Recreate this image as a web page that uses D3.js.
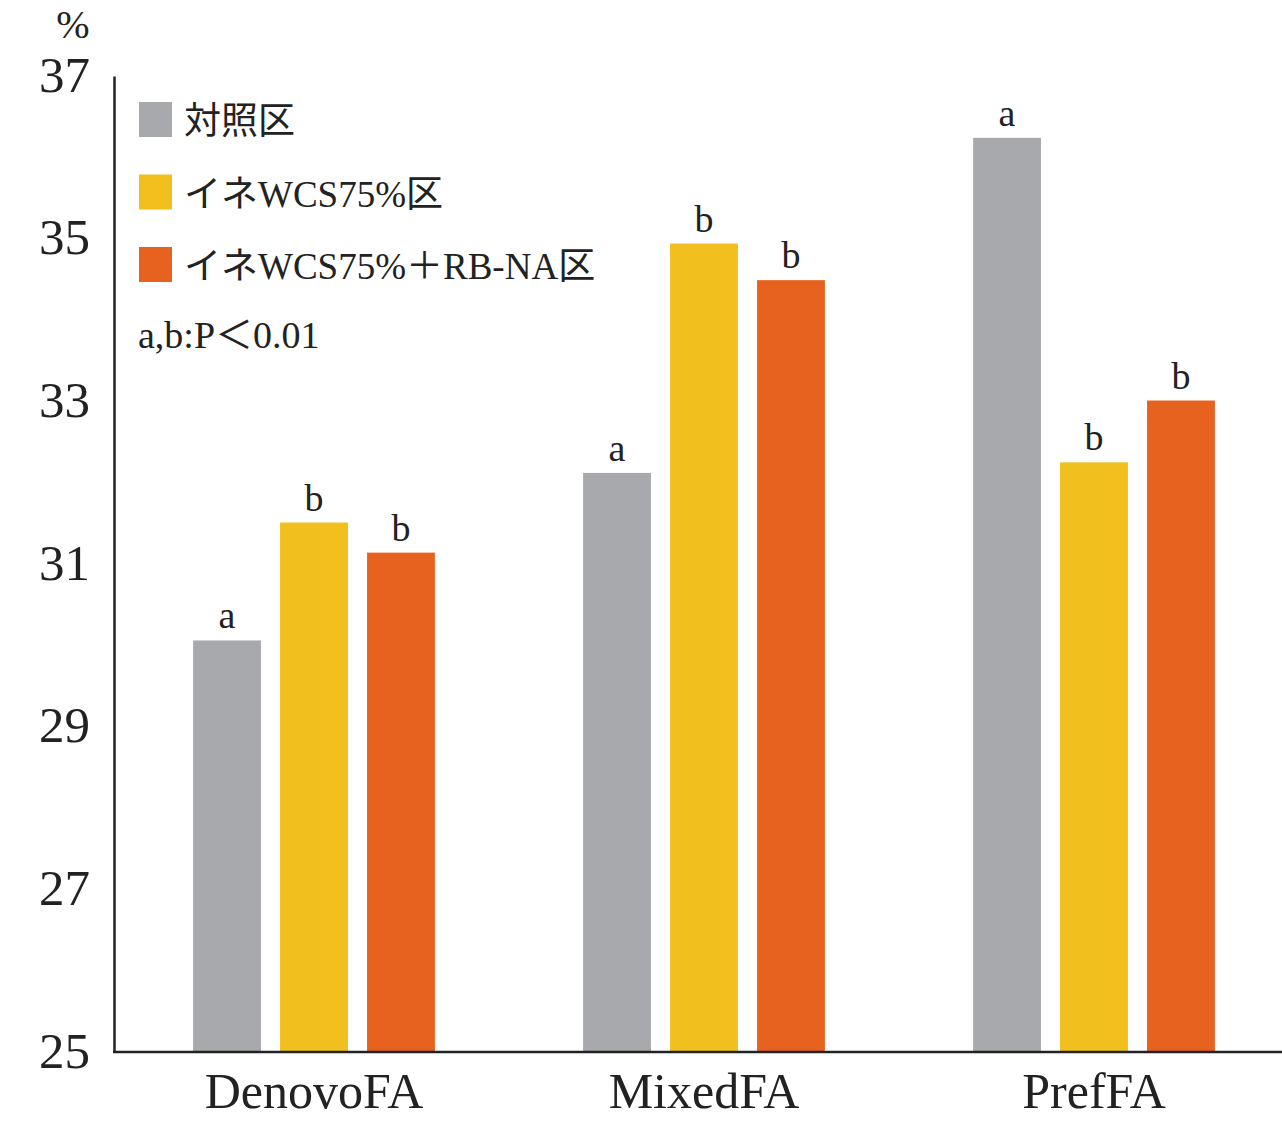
<!DOCTYPE html>
<html><head><meta charset="utf-8">
<script src="https://cdn.jsdelivr.net/npm/d3@7"></script>
<style>
html,body{margin:0;padding:0;background:#fff;}
svg{display:block;}
text{font-family:"Liberation Serif",serif;fill:#222;}
</style></head>
<body>
<script>
const categories = ["DenovoFA", "MixedFA", "PrefFA"];
const seriesNames = ["対照区", "イネWCS75%区", "イネWCS75%＋RB-NA区"];
const seriesColors = ["#a8a9ad", "#f1bf1e", "#e8621f"];
const control = [30.06, 32.12, 36.24];
const wcs75 = [31.51, 34.94, 32.25];
const wcs75rb = [31.14, 34.49, 33.01];
const letters = [["a","b","b"],["a","b","b"],["a","b","b"]];
const yTicks = [25, 27, 29, 31, 33, 35, 37];
const unitLabel = "%";
const noteText = "a,b:P＜0.01";

const W = 1282, H = 1123;
const svg = d3.select("body").append("svg").attr("width", W).attr("height", H);

const y = d3.scaleLinear().domain([25, 37]).range([1052, 76]);
const x0 = d3.scaleBand().domain(categories).range([119, 1289]).paddingInner(0.38).paddingOuter(0.19);
const x1 = d3.scaleBand().domain(seriesNames).range([0, x0.bandwidth()]).paddingInner(0.22);
const seriesVals = [control, wcs75, wcs75rb];

function mixedText(sel, str) {
  const parts = str.match(/[\u3000-\u9fff\uff01-\uff0f\uff1a-\uff20]+|[^\u3000-\u9fff\uff01-\uff0f\uff1a-\uff20]+/g);
  parts.forEach(p => {
    const cjk = /[\u3000-\u9fff\uff01-\uff0f\uff1a-\uff20]/.test(p);
    sel.append("tspan")
      .style("font-family", cjk ? "'Noto Sans CJK JP',sans-serif" : "'Liberation Serif',serif")
      .text(p);
  });
}

// bars
const groups = svg.append("g").selectAll("g").data(categories).join("g")
  .attr("transform", d => `translate(${x0(d)},0)`);
groups.each(function(cat, ci) {
  const g = d3.select(this);
  seriesNames.forEach((s, si) => {
    const v = seriesVals[si][ci];
    g.append("rect")
      .attr("x", x1(s)).attr("width", x1.bandwidth())
      .attr("y", y(v)).attr("height", y(25) - y(v))
      .attr("fill", seriesColors[si]);
    g.append("text")
      .attr("x", x1(s) + x1.bandwidth() / 2)
      .attr("y", y(v) - 12)
      .attr("text-anchor", "middle")
      .style("font-size", "38px")
      .text(letters[ci][si]);
  });
});

// y axis
const yAxis = svg.append("g").attr("transform", "translate(114,0)")
  .call(d3.axisLeft(y).tickValues(yTicks).tickSize(0).tickSizeOuter(0).tickPadding(24).tickFormat(d3.format("d")));
yAxis.select(".domain").attr("stroke", "#222").attr("stroke-width", 2.5);
yAxis.selectAll("text").style("font-size", "51px").attr("fill", "#222")
  .style("font-family", "'Liberation Serif',serif").attr("dy", "0.3em");

// x axis
const xAxis = svg.append("g").attr("transform", "translate(0,1052)")
  .call(d3.axisBottom(x0).tickSize(0).tickSizeOuter(0).tickPadding(20));
xAxis.select(".domain").attr("d", "M113,0H1282").attr("stroke", "#222").attr("stroke-width", 2.5);
xAxis.selectAll("text").style("font-size", "50px").attr("fill", "#222")
  .style("font-family", "'Liberation Serif',serif");

// unit
svg.append("text").attr("x", 73).attr("y", 38).attr("text-anchor", "middle")
  .style("font-size", "40px").text(unitLabel);

// legend
const leg = svg.append("g");
seriesNames.forEach((s, i) => {
  const yy = 102 + i * 72.5;
  leg.append("rect").attr("x", 139).attr("y", yy).attr("width", 33).attr("height", 35).attr("fill", seriesColors[i]);
  const t = leg.append("text").attr("x", 184).attr("y", yy + 32).style("font-size", "37px");
  mixedText(t, s);
});
const nt = leg.append("text").attr("x", 138).attr("y", 348).style("font-size", "38px");
mixedText(nt, noteText);
</script>
</body></html>
